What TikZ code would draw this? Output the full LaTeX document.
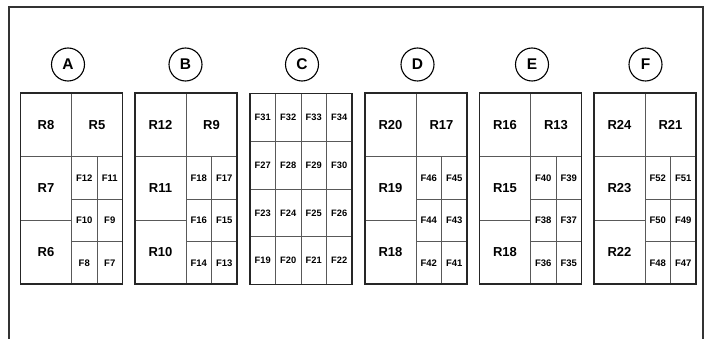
\documentclass[tikz,border=0pt]{standalone}
\usepackage{fontspec}
\setmainfont{Liberation Sans}
\usetikzlibrary{positioning}

\begin{document}
\begin{tikzpicture}
  [x=1pt, y=-1pt,
   every node/.style={inner sep=0pt, outer sep=0pt},
   frame line/.style={draw=black!80, line width=1.2pt},
   box line/.style={draw=black!85, line width=1.8pt},
   label circ/.style={circle, draw, line width=1.1pt, minimum size=33pt, font=\fontsize{15.5}{17}\selectfont\bfseries},
   big cell/.style={draw=black!65, line width=0.8pt, minimum width=51pt, minimum height=63.67pt, font=\fontsize{13}{15}\selectfont\bfseries},
   small cell/.style={draw=black!65, line width=0.8pt, minimum width=25.5pt, minimum height=42.44pt, font=\fontsize{9.5}{11}\selectfont\bfseries},
   grid cell/.style={draw=black!65, line width=0.8pt, minimum width=25.5pt, minimum height=47.75pt, font=\fontsize{9.3}{11}\selectfont\bfseries}]
  \useasboundingbox (0,0) rectangle (712,339);

  % open frame round the panel
  \draw[frame line] (9,339) -- (9,7) -- (703,7) -- (703,339);

  % relay / fuse boxes
  \foreach \id/\x/\cx/\ra/\rb/\rc/\rd/\f in {
      A/20.5/68/R8/R5/R7/R6/7,
      B/135/185.5/R12/R9/R11/R10/13,
      D/365/417.5/R20/R17/R19/R18/41,
      E/479.5/532/R16/R13/R15/R18/35,
      F/594/645.5/R24/R21/R23/R22/47}{
    \node[label circ] (\id-lbl) at (\cx,64.5) {\id};
    \coordinate (\id-nw) at (\x,93);
    \node[big cell, anchor=north west] (\id-r1) at (\id-nw) {\ra};
    \node[big cell, right=0pt of \id-r1] (\id-r2) {\rb};
    \node[big cell, below=0pt of \id-r1] (\id-r3) {\rc};
    \node[big cell, below=0pt of \id-r3] (\id-r4) {\rd};
    \pgfmathtruncatemacro\fa{\f+5}
    \pgfmathtruncatemacro\fb{\f+4}
    \pgfmathtruncatemacro\fc{\f+3}
    \pgfmathtruncatemacro\fd{\f+2}
    \pgfmathtruncatemacro\fe{\f+1}
    \node[small cell, anchor=north west] (\id-f1) at (\id-r2.south west) {F\fa};
    \node[small cell, right=0pt of \id-f1] (\id-f2) {F\fb};
    \node[small cell, below=0pt of \id-f1] (\id-f3) {F\fc};
    \node[small cell, right=0pt of \id-f3] (\id-f4) {F\fd};
    \node[small cell, below=0pt of \id-f3] (\id-f5) {F\fe};
    \node[small cell, right=0pt of \id-f5] (\id-f6) {F\f};
    \draw[box line] (\id-r1.north west) rectangle (\id-f6.south east);
  }

  % fuse box C
  \node[label circ] (C-lbl) at (302,64.5) {C};
  \foreach \row in {0,...,3}
    \foreach \col in {0,...,3}{
      \pgfmathtruncatemacro\num{31-4*\row+\col}
      \node[grid cell] (C-\row\col) at (250+25.5*\col+12.75, 93.5+47.75*\row+23.875) {F\num};
    }
  \draw[box line] (C-00.north west) rectangle (C-33.south east);
\end{tikzpicture}
\end{document}
